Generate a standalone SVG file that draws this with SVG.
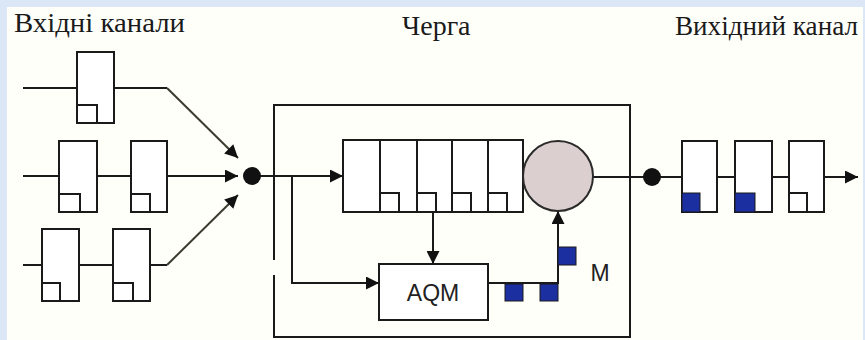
<svg xmlns="http://www.w3.org/2000/svg" width="865" height="340" viewBox="0 0 865 340">
<defs>
<style>
.ln{fill:none;stroke:#1a1a1a;stroke-width:2}
.dg{fill:none;stroke:#3a3a2e;stroke-width:2}
.pk{fill:#fff;stroke:#1a1a1a;stroke-width:2}
.bl{fill:#1c2fa0;stroke:#1a1a1a;stroke-width:1}
.lbl{font-family:'Liberation Sans',Arial,sans-serif;font-size:23px;fill:#222}
.ttl{font-family:'Liberation Serif','Times New Roman',serif;font-size:28px;fill:#1a1a1a}
</style>
<marker id="ah" viewBox="0 0 10 10" refX="10" refY="5" markerUnits="userSpaceOnUse" markerWidth="15" markerHeight="13" orient="auto">
<path d="M0,0 L10,5 L0,10 z" fill="#111"/>
</marker>
</defs>
<rect x="0" y="0" width="865" height="340" fill="#dbe7f7"/>
<rect x="7" y="7" width="856" height="333" fill="#fffffa"/>

<g id="labels">
<text class="ttl" x="14" y="32" textLength="171" lengthAdjust="spacingAndGlyphs">Вхідні канали</text>
<text class="ttl" x="402" y="35">Черга</text>
<text class="ttl" x="675" y="35" textLength="183" lengthAdjust="spacingAndGlyphs">Вихідний канал</text>
</g>

<g id="connectors">
<path class="ln" d="M23,88 H77 M114,88 H167"/>
<path class="dg" d="M167,88 L238,158" marker-end="url(#ah)"/>
<path class="ln" d="M23,176 H59 M97,176 H131"/>
<path class="ln" d="M167,176 H238" marker-end="url(#ah)"/>
<path class="ln" d="M23,265 H42 M79,265 H113 M150,265 H167"/>
<path class="dg" d="M167,265 L238,195" marker-end="url(#ah)"/>
<path class="ln" d="M252,176 H343" marker-end="url(#ah)"/>
<path class="ln" d="M292,176 V283 H379" marker-end="url(#ah)"/>
<path class="ln" d="M433,212 V264" marker-end="url(#ah)"/>
<path class="ln" d="M488,283 H558 V211" marker-end="url(#ah)"/>
<path class="ln" d="M593,177 H682 M717,177 H735 M772,177 H789"/>
<path class="ln" d="M824,177 H858" marker-end="url(#ah)"/>
</g>

<g id="in-ch1">
<rect class="pk" x="77" y="52" width="37" height="71"/>
<rect class="pk" x="77" y="105" width="20" height="18"/>
</g>
<g id="in-ch2">
<rect class="pk" x="59" y="141" width="38" height="71"/>
<rect class="pk" x="59" y="194" width="21" height="18"/>
<rect class="pk" x="131" y="141" width="36" height="71"/>
<rect class="pk" x="131" y="194" width="19" height="18"/>
</g>
<g id="in-ch3">
<rect class="pk" x="42" y="229" width="37" height="72"/>
<rect class="pk" x="42" y="283" width="18" height="18"/>
<rect class="pk" x="113" y="229" width="37" height="72"/>
<rect class="pk" x="113" y="283" width="20" height="18"/>
</g>
<g id="merge-dot">
<circle cx="252" cy="176" r="9" fill="#111"/>
</g>

<g id="queue">
<path class="ln" d="M274,260 V105 H630 V337 H274 V275"/>
</g>
<g id="buffer">
<rect class="pk" x="343" y="140" width="180" height="72"/>
<path class="ln" d="M380,140 V212 M417,140 V212 M452,140 V212 M488,140 V212"/>
<rect class="pk" x="380" y="193" width="19" height="19"/>
<rect class="pk" x="417" y="193" width="19" height="19"/>
<rect class="pk" x="452" y="193" width="19" height="19"/>
<rect class="pk" x="488" y="193" width="19" height="19"/>
</g>
<g id="server">
<circle cx="558" cy="176" r="35" fill="#dccfcf" stroke="#2a2a2a" stroke-width="2"/>
</g>
<g id="aqm">
<rect class="pk" x="379" y="264" width="109" height="56"/>
<text class="lbl" x="433" y="301" text-anchor="middle">AQM</text>
</g>
<g id="marks">
<rect class="bl" x="505" y="284" width="18" height="17"/>
<rect class="bl" x="540" y="284" width="18" height="17"/>
<rect class="bl" x="558" y="247" width="18" height="18"/>
<text class="lbl" x="600" y="281" text-anchor="middle">M</text>
</g>

<g id="out-dot">
<circle cx="652" cy="177" r="9" fill="#111"/>
</g>
<g id="out-ch">
<rect class="pk" x="682" y="141" width="35" height="71"/>
<rect class="bl" x="682" y="193" width="18" height="19"/>
<rect class="pk" x="735" y="141" width="37" height="71"/>
<rect class="bl" x="735" y="193" width="20" height="19"/>
<rect class="pk" x="789" y="141" width="35" height="71"/>
<rect class="pk" x="789" y="193" width="18" height="19"/>
</g>
</svg>
